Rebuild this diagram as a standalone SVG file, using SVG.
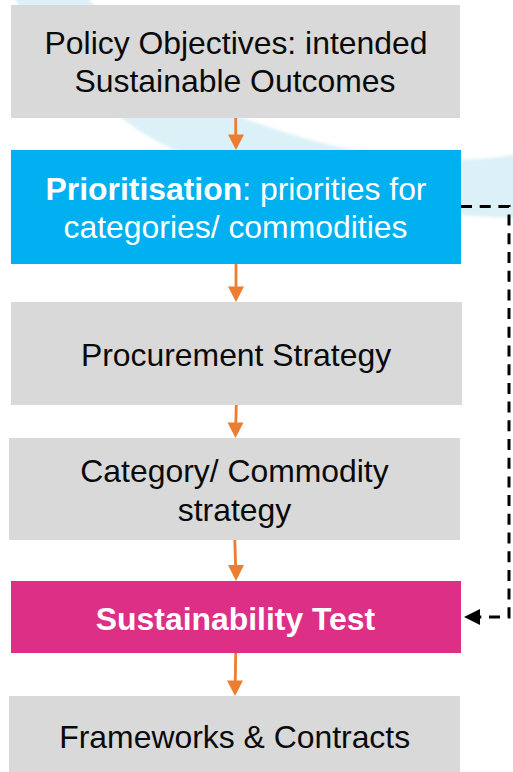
<svg xmlns="http://www.w3.org/2000/svg" width="513" height="772" viewBox="0 0 513 772">
<style>
.n{font-family:"Liberation Sans",Arial,sans-serif;font-size:31.9px;text-anchor:middle;fill:#0a0a0a}
.w{fill:#fff}
.b{font-weight:700}
.g{fill:#D9D9D9}
.o{fill:none;stroke:#ED7D31;stroke-width:2.8}
.h{fill:#ED7D31}
</style>
<defs><filter id="soft" x="-5%" y="-5%" width="110%" height="110%"><feGaussianBlur stdDeviation="1.5"/></filter></defs>
<rect width="513" height="772" fill="#fff"/>
<path id="swoosh" d="M12,-5 L86,-5 C140,65 200,105 260,124 C340,152 430,170 520,154 L520,218 C420,216 280,195 175,150 C110,122 50,55 12,-5 Z" fill="#DCF1F7" filter="url(#soft)"/>
<g id="policy"><rect class="g" x="11" y="5" width="449" height="113"/>
<text class="n" x="236" y="53.5">Policy Objectives: intended</text>
<text class="n" x="235" y="92">Sustainable Outcomes</text></g>
<g id="prioritisation"><rect x="11" y="150" width="450" height="114" fill="#00B0F0"/>
<text class="n w" x="236" y="200"><tspan class="b">Prioritisation</tspan>: priorities for</text>
<text class="n w" x="235.5" y="238">categories/ commodities</text></g>
<g id="procurement"><rect class="g" x="11" y="302" width="451" height="103"/>
<text class="n" x="236" y="366">Procurement Strategy</text></g>
<g id="category"><rect class="g" x="9" y="438" width="451" height="102"/>
<text class="n" x="234.5" y="482">Category/ Commodity</text>
<text class="n" x="234.5" y="520.5">strategy</text></g>
<g id="test"><rect x="11" y="581" width="450" height="72" fill="#DD2F86"/>
<text class="n w b" x="235.5" y="629.5">Sustainability Test</text></g>
<g id="frameworks"><rect class="g" x="9" y="696" width="451" height="76"/>
<text class="n" x="234.7" y="747.5">Frameworks &amp; Contracts</text></g>
<g id="connectors">
<path class="o" d="M235.700,118V135"/><path class="h" d="M228,134.500H244L236,150Z"/>
<path class="o" d="M236,264V287"/><path class="h" d="M228,286.500H244L236,302Z"/>
<path class="o" d="M236.300,405L235.800,423"/><path class="h" d="M227.500,422.500H243.500L235.500,438Z"/>
<path class="o" d="M234.800,540L235.600,566"/><path class="h" d="M228,565H244L236,581Z"/>
<path class="o" d="M235.700,653L235.300,681"/><path class="h" d="M227,680.500H243L235,696Z"/>
<path d="M461,206.500H509V617H472" fill="none" stroke="#000" stroke-width="3" stroke-dasharray="11 7.700"/>
<path d="M464,617L480,609V625Z" fill="#000"/>
</g>
</svg>
